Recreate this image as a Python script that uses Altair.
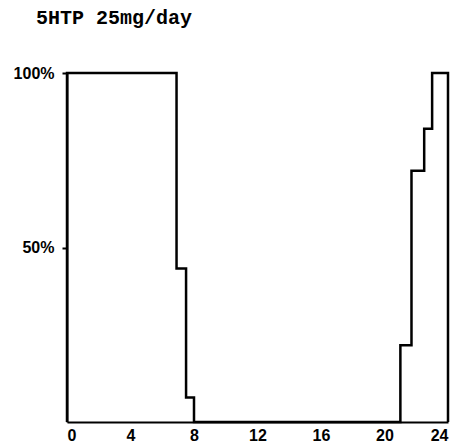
import altair as alt
import pandas as pd

# step boundaries (hours) and percentage values (step-after)
hours = [0, 0, 6.9, 7.5, 8.0, 21.0, 21.7, 22.5, 23.0, 24, 24]
percent = [0, 100, 44, 7, 0, 22, 72, 84, 100, 100, 0]
order = list(range(len(hours)))

x_ticks = [0, 4, 8, 12, 16, 20, 24]
y_ticks = [50, 100]

df = pd.DataFrame({"hour": hours, "pct": percent, "order": order})

line = alt.Chart(df).mark_line(
    interpolate="step-after", color="black", strokeWidth=2.5
).encode(
    x=alt.X("hour:Q", scale=alt.Scale(domain=[0, 24], nice=False),
            axis=alt.Axis(values=x_ticks, title=None, grid=False, domain=True,
                          domainColor="black", domainWidth=2, ticks=False,
                          labelPadding=5, labelFontSize=16,
                          labelFont="Liberation Sans", labelFontWeight="bold",
                          labelColor="black")),
    y=alt.Y("pct:Q", scale=alt.Scale(domain=[0, 100], nice=False),
            axis=alt.Axis(values=y_ticks, title=None, grid=False, domain=True,
                          domainColor="black", domainWidth=2, tickColor="black",
                          tickWidth=2, tickSize=5, labelPadding=8,
                          labelFontSize=16,
                          labelFont="Liberation Sans", labelFontWeight="bold",
                          labelColor="black",
                          labelExpr="datum.value + '%'")),
    order="order:Q",
)

chart = line.properties(
    width=381,
    height=349,
    title=alt.TitleParams(
        "5HTP 25mg/day", anchor="start", frame="group", dx=-31, offset=37,
        font="Liberation Mono", fontSize=20, fontWeight="bold", color="black",
    ),
    autosize=alt.AutoSizeParams(type="none"),
    padding={"left": 59, "top": 65, "right": 3, "bottom": 30},
).configure_view(stroke=None)

chart.save("out.html", embed_options={"renderer": "svg", "actions": False})
